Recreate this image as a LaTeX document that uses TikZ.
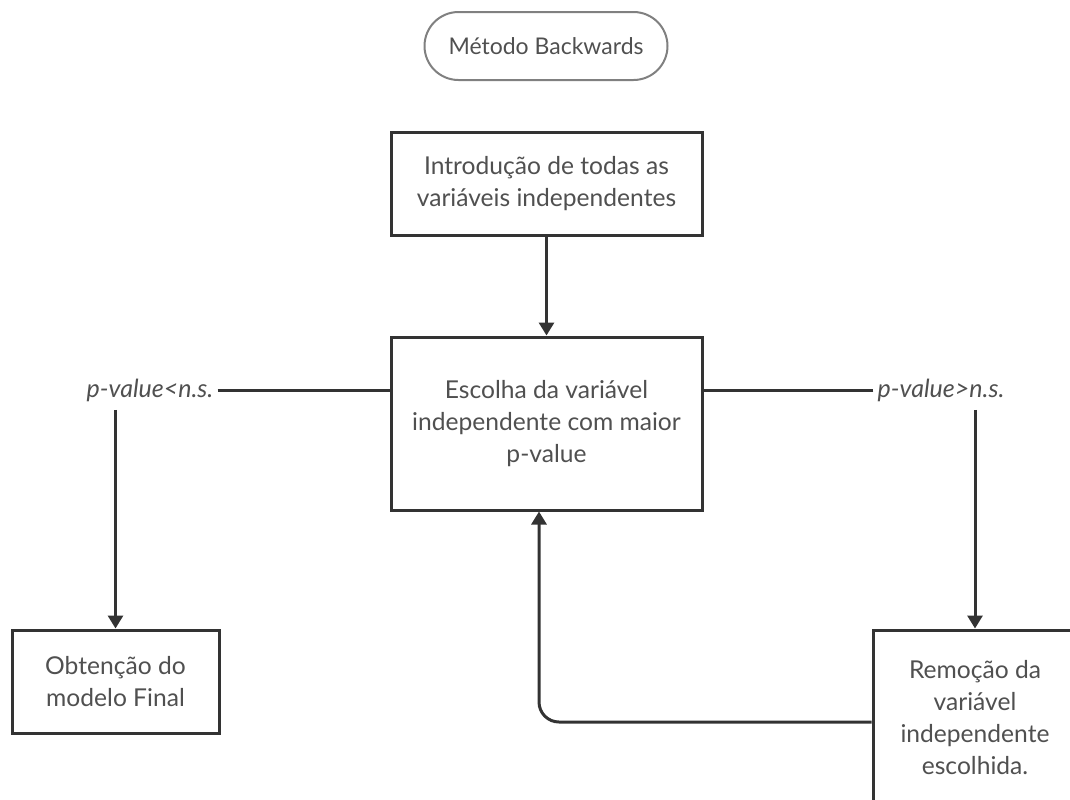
\documentclass[tikz,border=0pt]{standalone}
\usepackage{fontspec}
\setmainfont{Lato}
\usepackage{tikz}
\usetikzlibrary{arrows.meta, positioning}
\definecolor{linegray}{HTML}{333333}
\definecolor{textgray}{HTML}{505050}
\tikzstyle{arrow}     = [line width=1.5pt, draw=linegray, -{Triangle[width=7.5pt,length=6.5pt]}]
\tikzstyle{edge}      = [line width=1.5pt, draw=linegray]
\tikzstyle{stepbox}   = [draw=linegray, line width=1.5pt, fill=white, rectangle, inner sep=2pt, align=center, text=textgray, font=\fontsize{12.3}{16}\selectfont]
\tikzstyle{startoval} = [draw=gray, line width=1pt, rectangle, rounded corners=17pt, minimum width=121.5pt, minimum height=34pt, align=center, text=textgray, font=\fontsize{11.5}{16}\selectfont]
\tikzstyle{condlabel} = [inner sep=2pt, text=textgray, font=\fontsize{12.5}{16}\selectfont\itshape]

\begin{document}
\begin{tikzpicture}[x=0.5pt, y=-0.5pt]

    \useasboundingbox (0,0) rectangle (1070,799);
    \clip (0,0) rectangle (1070,799);

    \node[startoval] (Start) at (546,46) {Método Backwards};

    \node[stepbox, minimum width=155.5pt, minimum height=51.5pt] (Intro)   at (546.5,183.5) {Introdução de todas as\\variáveis independentes};
    \node[stepbox, minimum width=155.5pt, minimum height=86.5pt] (Escolha) at (546.5,423.5) {Escolha da variável\\independente com maior\\p-value};
    \node[stepbox, minimum width=103.5pt, minimum height=51.5pt] (Final)   at (115.5,681.5) {Obtenção do\\modelo Final};
    \node[stepbox, minimum width=102pt, minimum height=88pt]     (Remocao) at (975,718) {Remoção da\\variável\\independente\\escolhida.};

    \node[condlabel] (CondMenor) at (150,390) {p-value<n.s.};
    \node[condlabel] (CondMaior) at (941,390) {p-value>n.s.};

    \coordinate (Ret) at (539,722);

    \draw[arrow] (Intro) -- (Escolha);
    \draw[edge] (CondMenor.east) -- (CondMenor.east -| Escolha.west);
    \draw[edge] (CondMaior.west) -- (CondMaior.west -| Escolha.east);
    \draw[arrow] (Final.north |- CondMenor.south) ++(0,4) -- (Final.north);
    \draw[arrow] (Remocao.north |- CondMaior.south) ++(0,4) -- (Remocao.north);
    \draw[arrow, rounded corners=10pt] (Remocao.west |- Ret) -- (Ret) -- (Ret |- Escolha.south);

\end{tikzpicture}
\end{document}
